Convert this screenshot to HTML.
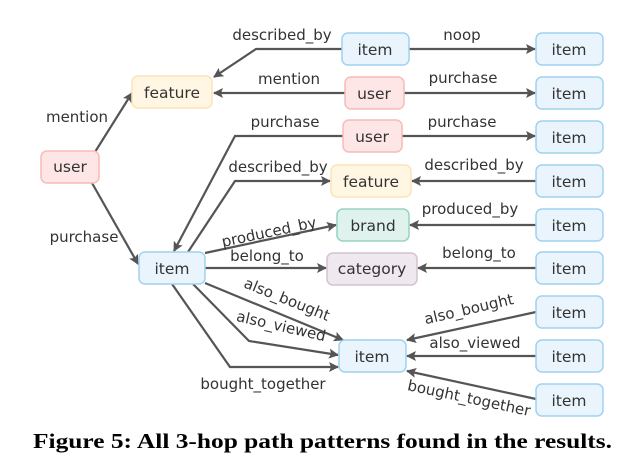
<!DOCTYPE html>
<html><head><meta charset="utf-8"><style>
html,body{margin:0;padding:0;background:#fff;}
svg{display:block;}
text{font-family:"DejaVu Sans","Liberation Sans",sans-serif;fill:#333;}
.n{font-size:15.5px;}
.l{font-size:15px;}
.e{stroke:#555;stroke-width:2.2;fill:none;}
</style></head><body>
<svg width="622" height="465" viewBox="0 0 622 465" xmlns="http://www.w3.org/2000/svg">
<defs>
<marker id="a" markerWidth="10" markerHeight="10" refX="9" refY="5" orient="auto" markerUnits="userSpaceOnUse">
<path d="M0,0 L10,5 L0,10 L2,5 Z" fill="#555"/></marker>
</defs>
<g class="e" marker-end="url(#a)">
<path d="M342,49 H256 L214,77"/>
<path d="M409,49 H535"/>
<path d="M345,93 H214"/>
<path d="M404,93 H535"/>
<path d="M95,152 L132,93"/>
<path d="M92,183 L138,264"/>
<path d="M343,136 H235 L174,251"/>
<path d="M402,136 H535"/>
<path d="M188,252 L235,181 H330"/>
<path d="M536,181 H412"/>
<path d="M205,253 L336,225"/>
<path d="M536,225 H410"/>
<path d="M205,268 H326"/>
<path d="M536,268 H418"/>
<path d="M205,283 L343,340"/>
<path d="M193,284 L249,341 L338,355"/>
<path d="M172,284 L230,367 L338,367"/>
<path d="M536,312 L407,340"/>
<path d="M536,356 H407"/>
<path d="M536,399 L407,371"/>
</g>
<g stroke-width="1.5">
<rect x="41" y="151" width="58" height="32" rx="6" fill="#fde6e5" stroke="#f7bcb6"/>
<rect x="132" y="76" width="80" height="32" rx="6" fill="#fff6e3" stroke="#fde3b6"/>
<rect x="342" y="33" width="67" height="32" rx="6" fill="#eaf4fc" stroke="#9fd2f1"/>
<rect x="345" y="77" width="59" height="32" rx="6" fill="#fde6e5" stroke="#f7bcb6"/>
<rect x="343" y="120" width="59" height="32" rx="6" fill="#fde6e5" stroke="#f7bcb6"/>
<rect x="331" y="165" width="80" height="32" rx="6" fill="#fff6e3" stroke="#fde3b6"/>
<rect x="337" y="209" width="72" height="32" rx="6" fill="#dff2ed" stroke="#96d4bf"/>
<rect x="327" y="253" width="90" height="32" rx="6" fill="#f0e8ef" stroke="#d2c2d2"/>
<rect x="139" y="252" width="66" height="32" rx="6" fill="#eaf4fc" stroke="#9fd2f1"/>
<rect x="339" y="340" width="67" height="32" rx="6" fill="#eaf4fc" stroke="#9fd2f1"/>
<g fill="#eaf4fc" stroke="#9fd2f1">
<rect x="536" y="33" width="67" height="32" rx="6"/>
<rect x="536" y="77" width="67" height="32" rx="6"/>
<rect x="536" y="121" width="67" height="32" rx="6"/>
<rect x="536" y="165" width="67" height="32" rx="6"/>
<rect x="536" y="209" width="67" height="32" rx="6"/>
<rect x="536" y="252" width="67" height="32" rx="6"/>
<rect x="536" y="296" width="67" height="32" rx="6"/>
<rect x="536" y="340" width="67" height="32" rx="6"/>
<rect x="536" y="384" width="67" height="32" rx="6"/>
</g>
</g>
<g class="n" text-anchor="middle">
<text x="70" y="172">user</text>
<text x="172" y="98">feature</text>
<text x="375" y="55">item</text>
<text x="374" y="99">user</text>
<text x="372" y="142">user</text>
<text x="371" y="187">feature</text>
<text x="373" y="231">brand</text>
<text x="372" y="274">category</text>
<text x="172" y="274">item</text>
<text x="372" y="362">item</text>
<text x="569" y="55">item</text>
<text x="569" y="99">item</text>
<text x="569" y="143">item</text>
<text x="569" y="187">item</text>
<text x="569" y="231">item</text>
<text x="569" y="274">item</text>
<text x="569" y="318">item</text>
<text x="569" y="362">item</text>
<text x="569" y="406">item</text>
</g>
<g class="l" text-anchor="middle">
<text x="282" y="40">described_by</text>
<text x="462" y="40">noop</text>
<text x="289" y="84">mention</text>
<text x="463" y="83">purchase</text>
<text x="77" y="122">mention</text>
<text x="84" y="242">purchase</text>
<text x="285" y="127">purchase</text>
<text x="462" y="127">purchase</text>
<text x="278" y="172">described_by</text>
<text x="474" y="170">described_by</text>
<text x="270" y="237" transform="rotate(-12 270 237)">produced_by</text>
<text x="470" y="214">produced_by</text>
<text x="267" y="261">belong_to</text>
<text x="479" y="258">belong_to</text>
<text x="285" y="304" transform="rotate(22 285 304)">also_bought</text>
<text x="280" y="331" transform="rotate(13 280 331)">also_viewed</text>
<text x="263" y="389">bought_together</text>
<text x="470" y="314" transform="rotate(-13 470 314)">also_bought</text>
<text x="475" y="348">also_viewed</text>
<text x="468" y="403" transform="rotate(12 468 403)">bought_together</text>
</g>
<text x="33" y="448" textLength="579" lengthAdjust="spacingAndGlyphs" style="font-family:'Liberation Serif',serif;font-weight:bold;font-size:21px;fill:#000">Figure 5: All 3-hop path patterns found in the results.</text>
</svg>
</body></html>
